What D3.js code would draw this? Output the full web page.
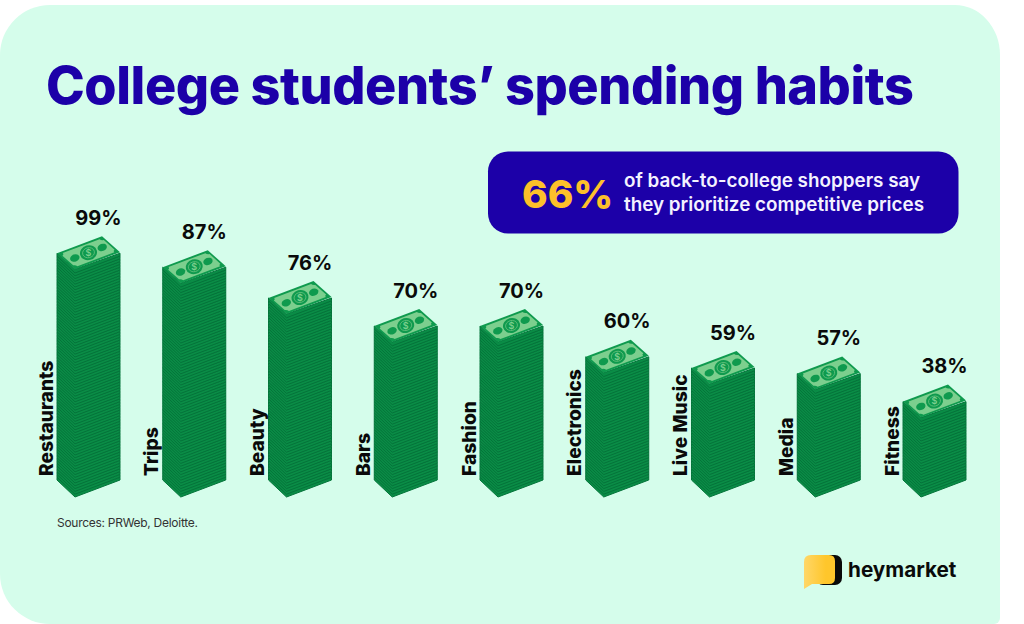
<!DOCTYPE html>
<html>
<head>
	<meta charset="utf-8">
	<title>College students' spending habits</title>
	<script src="https://d3js.org/d3.v7.min.js"></script>
	<style>
		html, body { margin: 0; padding: 0; background: #fff; }
		svg { display: block; }
		text { font-family: Inter, sans-serif; }
	</style>
</head>
<body>
	<script type="text/javascript">

		// Chart data
		var categories = ['Restaurants', 'Trips', 'Beauty', 'Bars', 'Fashion', 'Electronics', 'Live Music', 'Media', 'Fitness'];
		var percents = [99, 87, 76, 70, 70, 60, 59, 57, 38];
		// Stacks in the picture are not proportional to the percents, so the bill count is read separately
		var billCounts = [81, 76, 65, 55, 55, 44, 40, 38, 28];

		var width = 1024, height = 624;

		var svg = d3.select('body')
					.append('svg')
					.attr('width', width)
					.attr('height', height);

		var defs = svg.append('defs');
		var bubbleGrad = defs.append('linearGradient').attr('id', 'bubbleGrad');
		bubbleGrad.append('stop').attr('offset', '0%').attr('stop-color', '#ffd768');
		bubbleGrad.append('stop').attr('offset', '70%').attr('stop-color', '#ffc62b');

		// Background card, bottom right corner is much tighter than the others
		svg.append('path')
		   .attr('d', 'M50,5L955,5A45,50 0 0 1 1000,55L1000,618A6,6 0 0 1 994,624L50,624A50,50 0 0 1 0,574L0,55A50,50 0 0 1 50,5Z')
		   .attr('fill', '#d5fdeb');

		// Title
		svg.append('text')
		   .attr('x', 46).attr('y', 104)
		   .attr('font-size', 52.2)
		   .attr('font-weight', 800)
		   .attr('letter-spacing', -0.45)
		   .attr('fill', '#1c00a8')
		   .text('College students\u2019 spending habits');

		// Callout
		svg.append('rect')
		   .attr('x', 488).attr('y', 151.5)
		   .attr('width', 470.5).attr('height', 82)
		   .attr('rx', 20)
		   .attr('fill', '#1c00a8');
		svg.append('text')
		   .attr('x', 522).attr('y', 208)
		   .attr('font-size', 38.8)
		   .attr('font-weight', 800)
		   .attr('fill', '#fdc02a')
		   .text('66%');
		svg.selectAll('.callout')
		   .data(['of back-to-college shoppers say', 'they prioritize competitive prices'])
		   .enter()
		   .append('text')
		   .attr('class', 'callout')
		   .attr('x', 624)
		   .attr('y', function(d, i) { return 187 + i * 23.8; })
		   .attr('font-size', 18.85)
		   .attr('font-weight', 600)
		   .attr('fill', '#f4f2ff')
		   .text(function(d) { return d; });

		// Scales
		var x = d3.scaleBand()
				  .domain(categories)
				  .range([57, 57 + 105.75 * categories.length])
				  .paddingInner(0);
		var y = d3.scaleLinear().domain([0, 100]).range([480, 200]);

		var stacks = svg.selectAll('.stack')
						.data(categories.map(function(d, i) {
							return {name: d, pct: percents[i], bills: billCounts[i]};
						}))
						.enter()
						.append('g')
						.attr('class', 'stack')
						.attr('transform', function(d) { return 'translate(' + x(d.name) + ',0)'; });

		// Bill layers, bottom one first
		stacks.each(function(d) {
			var g = d3.select(this);
			g.selectAll('.layer')
			 .data(d3.range(d.bills))
			 .enter()
			 .append('path')
			 .attr('class', 'layer')
			 .attr('d', function(i) {
			 	var b = y(i), t = y(i + 1);
			 	return 'M0,' + t + 'L18,' + (t + 16) + 'L63,' + t + 'L63,' + b + 'L18,' + (b + 17) + 'L0,' + b + 'Z';
			 })
			 .attr('fill', '#0a8c46')
			 .attr('stroke', '#04743a')
			 .attr('stroke-width', 1);

			// Top bill, drawn in a 100x100 box and skewed onto the stack
			var yt = y(d.bills);
			var bill = g.append('g')
						.attr('transform', 'matrix(0.45,-0.17,0.18,0.16,0,' + yt + ')');
			bill.append('rect')
				.attr('width', 100).attr('height', 100)
				.attr('fill', '#0f9a4e');
			bill.append('path')
				.attr('d', 'M9,9L91,9Q91,17 96,20L96,80Q91,83 91,91L9,91Q9,83 4,80L4,20Q9,17 9,9Z')
				.attr('fill', '#7ccf8e');

			// Ovals are drawn flat so they stay round on the skewed bill
			var cx = 31.5, cy = yt - 0.5;
			g.selectAll('.spot')
			 .data([-1, 1])
			 .enter()
			 .append('ellipse')
			 .attr('class', 'spot')
			 .attr('transform', function(s) {
			 	return 'translate(' + (cx + s * 13.7) + ',' + (cy - s * 5.3) + ') rotate(-20)';
			 })
			 .attr('rx', 4.8).attr('ry', 3.6)
			 .attr('fill', '#0f9a4e');
			g.append('ellipse')
			 .attr('transform', 'translate(' + cx + ',' + cy + ') rotate(-15)')
			 .attr('rx', 8.6).attr('ry', 7.4)
			 .attr('fill', '#0f9a4e');
			g.append('ellipse')
			 .attr('transform', 'translate(' + cx + ',' + cy + ') rotate(-15)')
			 .attr('rx', 6).attr('ry', 5)
			 .attr('fill', 'none')
			 .attr('stroke', '#62c07c')
			 .attr('stroke-width', 0.8);
			g.append('text')
			 .attr('x', cx).attr('y', cy + 3.3)
			 .attr('text-anchor', 'middle')
			 .attr('font-size', 9)
			 .attr('font-weight', 600)
			 .attr('fill', '#7ccf8e')
			 .text('$');
		});

		// Percent labels
		stacks.append('text')
			  .attr('x', 41.5)
			  .attr('y', function(d) { return y(d.bills) - 28.5; })
			  .attr('text-anchor', 'middle')
			  .attr('font-size', 20)
			  .attr('font-weight', 700)
			  .attr('fill', '#0a0a0a')
			  .text(function(d) { return d.pct + '%'; });

		// Category labels
		stacks.append('text')
			  .attr('transform', 'translate(-4.5,476) rotate(-90)')
			  .attr('font-size', 19.2)
			  .attr('font-weight', 760)
			  .attr('fill', '#0a0a0a')
			  .text(function(d) { return d.name; });

		// Source
		svg.append('text')
		   .attr('x', 57).attr('y', 527)
		   .attr('font-size', 12)
		   .attr('letter-spacing', -0.28)
		   .attr('fill', '#333')
		   .text('Sources: PRWeb, Deloitte.');

		// Logo
		svg.append('rect')
		   .attr('x', 816).attr('y', 555)
		   .attr('width', 26).attr('height', 30)
		   .attr('rx', 7)
		   .attr('fill', '#0a0a0a');
		svg.append('path')
		   .attr('d', 'M811,555L829,555Q835,555 835,561L835,578Q835,584 829,584L812,584L804,589L804,562Q804,555 811,555Z')
		   .attr('fill', 'url(#bubbleGrad)');
		svg.append('text')
		   .attr('x', 848).attr('y', 577)
		   .attr('font-size', 20.7)
		   .attr('font-weight', 700)
		   .attr('fill', '#0a0a0a')
		   .text('heymarket');

	</script>
</body>
</html>
